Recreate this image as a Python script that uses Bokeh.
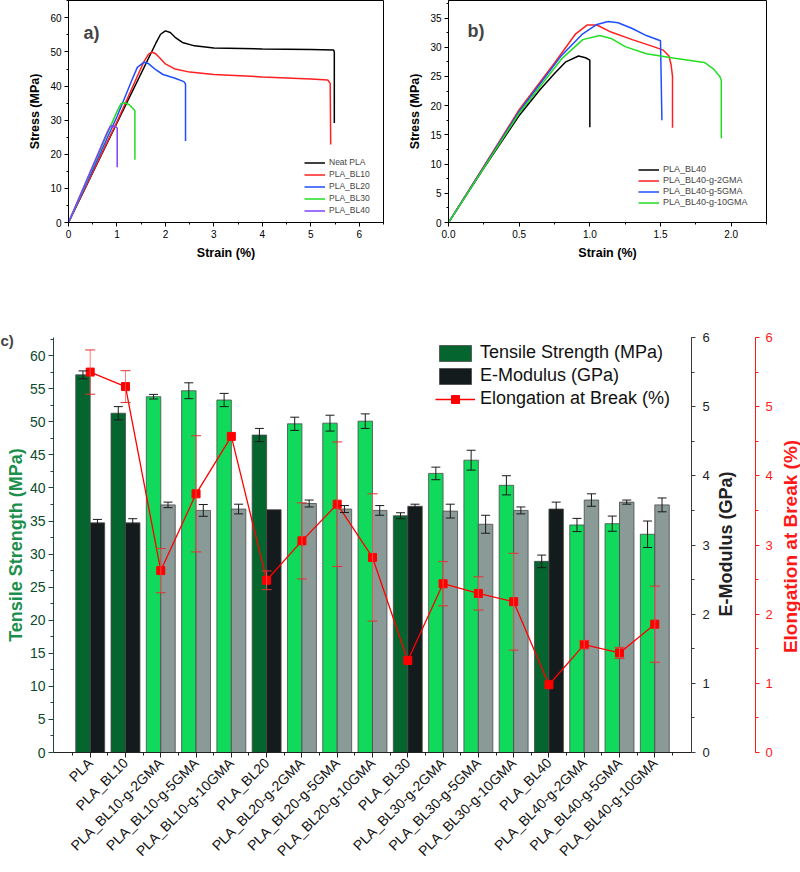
import math
from bokeh.plotting import figure
from bokeh.layouts import column, row
from bokeh.models import (Range1d, LinearAxis, FixedTicker, SingleIntervalTicker, Legend, LegendItem,
                          Whisker, TeeHead, ColumnDataSource, Label, NumeralTickFormatter)
from bokeh.transform import dodge
from bokeh.embed import file_html
from bokeh.resources import INLINE

FONT = "Liberation Sans"

# ---------------- panel a: stress-strain curves ----------------
a_names = ["Neat PLA", "PLA_BL10", "PLA_BL20", "PLA_BL30", "PLA_BL40"]
a_colors = ["#000000", "#ff1f1f", "#1f4dff", "#22dd22", "#8040ff"]
a_pla_x = [0, 1.0, 1.8, 1.9, 2.0, 2.1, 2.2, 2.35, 2.6, 3.0, 4.0, 5.0, 5.47, 5.485, 5.485]
a_pla_y = [0, 29.2, 52.5, 55.2, 56.2, 55.7, 54.3, 52.8, 51.8, 51.2, 50.9, 50.7, 50.6, 50.0, 29.2]
a_bl10_x = [0, 1.0, 1.55, 1.65, 1.72, 1.8, 1.9, 2.0, 2.2, 2.5, 3.0, 4.0, 5.0, 5.35, 5.40, 5.41]
a_bl10_y = [0, 29.5, 47.0, 49.3, 50.0, 49.5, 48.0, 46.5, 45.0, 44.1, 43.4, 42.7, 42.1, 41.8, 40.8, 22.9]
a_bl20_x = [0, 1.0, 1.3, 1.42, 1.56, 1.65, 1.8, 1.95, 2.2, 2.38, 2.415, 2.415]
a_bl20_y = [0, 31.0, 41.5, 45.5, 47.0, 46.6, 44.8, 43.4, 42.3, 41.3, 40.6, 23.9]
a_bl30_x = [0, 1.0, 1.08, 1.15, 1.25, 1.34, 1.37, 1.37]
a_bl30_y = [0, 32.5, 34.8, 35.1, 34.6, 33.3, 32.8, 18.4]
a_bl40_x = [0, 0.8, 0.86, 0.92, 0.98, 1.005, 1.005]
a_bl40_y = [0, 26.5, 28.2, 28.4, 28.0, 27.7, 16.2]

# ---------------- panel b ----------------
b_names = ["PLA_BL40", "PLA_BL40-g-2GMA", "PLA_BL40-g-5GMA", "PLA_BL40-g-10GMA"]
b_colors = ["#000000", "#ff1f1f", "#1f4dff", "#22dd22"]
b_bl40_x = [0, 0.25, 0.5, 0.65, 0.75, 0.83, 0.92, 0.97, 1.0, 1.0]
b_bl40_y = [0, 9.3, 18.3, 22.8, 25.5, 27.5, 28.5, 28.2, 27.8, 16.3]
b_g2_x = [0, 0.5, 0.75, 0.9, 0.98, 1.05, 1.15, 1.3, 1.45, 1.52, 1.56, 1.575, 1.585, 1.585]
b_g2_y = [0, 19.3, 27.3, 32.3, 33.8, 33.8, 32.6, 31.3, 30.1, 29.5, 28.5, 27.0, 25.0, 16.2]
b_g5_x = [0, 0.5, 0.8, 0.95, 1.05, 1.13, 1.2, 1.3, 1.4, 1.5, 1.51]
b_g5_y = [0, 19.0, 28.6, 32.3, 33.9, 34.4, 34.2, 33.2, 32.0, 31.1, 17.5]
b_g10_x = [0, 0.5, 0.8, 0.95, 1.07, 1.15, 1.25, 1.4, 1.6, 1.81, 1.87, 1.92, 1.93, 1.93]
b_g10_y = [0, 18.7, 28.0, 31.3, 32.0, 31.5, 30.1, 28.9, 28.1, 27.4, 26.4, 25.0, 24.3, 14.4]

# ---------------- panel c ----------------
categories = ["PLA", "PLA_BL10", "PLA_BL10-g-2GMA", "PLA_BL10-g-5GMA", "PLA_BL10-g-10GMA",
              "PLA_BL20", "PLA_BL20-g-2GMA", "PLA_BL20-g-5GMA", "PLA_BL20-g-10GMA",
              "PLA_BL30", "PLA_BL30-g-2GMA", "PLA_BL30-g-5GMA", "PLA_BL30-g-10GMA",
              "PLA_BL40", "PLA_BL40-g-2GMA", "PLA_BL40-g-5GMA", "PLA_BL40-g-10GMA"]
is_grafted = [False, False, True, True, True, False, True, True, True,
              False, True, True, True, False, True, True, True]
tensile = [57.1, 51.3, 53.8, 54.7, 53.3, 48.0, 49.7, 49.8, 50.1, 35.8, 42.2, 44.2, 40.4, 28.9, 34.4, 34.6, 33.0]
tensile_err = [0.6, 1.0, 0.35, 1.2, 1.0, 1.0, 1.0, 1.2, 1.1, 0.45, 0.95, 1.5, 1.45, 0.95, 1.0, 1.15, 2.0]
modulus = [3.32, 3.32, 3.58, 3.50, 3.52, 3.51, 3.60, 3.52, 3.50, 3.56, 3.49, 3.30, 3.50, 3.52, 3.65, 3.62, 3.58]
modulus_err = [0.05, 0.06, 0.04, 0.085, 0.07, 0.0, 0.05, 0.05, 0.07, 0.03, 0.1, 0.13, 0.05, 0.1, 0.09, 0.03, 0.1]
elong = [5.50, 5.29, 2.63, 3.74, 4.57, 2.49, 3.06, 3.59, 2.82, 1.33, 2.44, 2.30, 2.18, 0.98, 1.56, 1.44, 1.855]
elong_err = [0.32, 0.23, 0.32, 0.84, 0.0, 0.135, 0.55, 0.9, 0.92, 0.0, 0.32, 0.24, 0.70, 0.0, 0.06, 0.08, 0.55]


def style_small(p, xint, yint, xfmt=None):
    p.xaxis.ticker = SingleIntervalTicker(interval=xint, num_minor_ticks=2)
    p.yaxis.ticker = SingleIntervalTicker(interval=yint, num_minor_ticks=2)
    if xfmt:
        p.xaxis.formatter = NumeralTickFormatter(format=xfmt)
    for ax in (p.xaxis[0], p.yaxis[0]):
        ax.major_tick_out = 4
        ax.major_tick_in = 0
        ax.minor_tick_out = 2
        ax.minor_tick_in = 0
        ax.axis_line_color = "black"
        ax.major_tick_line_color = "black"
        ax.minor_tick_line_color = "black"
        ax.major_label_text_font = FONT
        ax.major_label_text_font_size = "10px"
        ax.major_label_text_color = "black"
        ax.axis_label_text_font = FONT
        ax.axis_label_text_font_style = "bold"
        ax.axis_label_text_font_size = "12.5px"
        ax.axis_label_text_color = "black"
        ax.major_label_standoff = 3
        ax.axis_label_standoff = 5
    p.xgrid.visible = False
    p.ygrid.visible = False
    p.outline_line_color = "black"
    p.outline_line_alpha = 1
    p.outline_line_width = 1


def style_side_axis(ax, color, label_color):
    ax.ticker = SingleIntervalTicker(interval=1, num_minor_ticks=2)
    ax.major_label_text_font = FONT
    ax.major_label_text_font_size = "13px"
    ax.major_label_text_color = label_color
    ax.axis_line_color = color
    ax.major_tick_line_color = color
    ax.minor_tick_line_color = color
    ax.major_tick_out = 4
    ax.major_tick_in = 0
    ax.minor_tick_out = 3
    ax.minor_tick_in = 0


def strip_figure(width, right_border, y_loc):
    f = figure(width=width, height=592, title=None, x_range=Range1d(0, 1), y_range=Range1d(0, 6),
               x_axis_location=None, y_axis_location=y_loc, output_backend="svg", toolbar_location=None,
               min_border_left=0, min_border_right=right_border, min_border_top=57, min_border_bottom=120)
    f.outline_line_color = None
    f.xgrid.visible = False
    f.ygrid.visible = False
    return f


# ---- figure a ----
pa = figure(width=400, height=280, title=None, x_range=Range1d(0, 6.5), y_range=Range1d(0, 65.1),
            output_backend="svg", toolbar_location=None,
            min_border_left=68, min_border_right=17, min_border_top=0, min_border_bottom=58)
pa.xaxis.axis_label = "Strain (%)"
pa.yaxis.axis_label = "Stress (MPa)"
style_small(pa, 1, 10)
a_series = [(a_pla_x, a_pla_y), (a_bl10_x, a_bl10_y), (a_bl20_x, a_bl20_y), (a_bl30_x, a_bl30_y), (a_bl40_x, a_bl40_y)]
a_items = []
for (xs, ys), nm, col in zip(a_series, a_names, a_colors):
    r = pa.line(xs, ys, line_color=col, line_width=1.5)
    a_items.append(LegendItem(label=nm, renderers=[r]))
leg_a = Legend(items=a_items, location=(236, 7), border_line_color=None, background_fill_alpha=0,
               padding=0, margin=0, spacing=2, glyph_width=21, glyph_height=9, label_height=9,
               label_standoff=4, label_text_font=FONT, label_text_font_size="8.5px")
pa.add_layout(leg_a)
pa.add_layout(Label(x=15, y=190, x_units="screen", y_units="screen", text="a)", text_font=FONT,
                    text_font_style="bold", text_font_size="18px", text_baseline="alphabetic"))

# ---- figure b ----
pb = figure(width=400, height=280, title=None, x_range=Range1d(0, 2.25), y_range=Range1d(0, 38.0),
            output_backend="svg", toolbar_location=None,
            min_border_left=48, min_border_right=34, min_border_top=0, min_border_bottom=56)
pb.xaxis.axis_label = "Strain (%)"
pb.yaxis.axis_label = "Stress (MPa)"
style_small(pb, 0.5, 5, xfmt="0.0")
b_series = [(b_bl40_x, b_bl40_y), (b_g2_x, b_g2_y), (b_g5_x, b_g5_y), (b_g10_x, b_g10_y)]
b_items = []
for (xs, ys), nm, col in zip(b_series, b_names, b_colors):
    r = pb.line(xs, ys, line_color=col, line_width=1.5)
    b_items.append(LegendItem(label=nm, renderers=[r]))
leg_b = Legend(items=b_items, location=(190, 15), border_line_color=None, background_fill_alpha=0,
               padding=0, margin=0, spacing=1, glyph_width=21, glyph_height=9, label_height=9,
               label_standoff=4, label_text_font=FONT, label_text_font_size="9px")
pb.add_layout(leg_b)
pb.add_layout(Label(x=19, y=192, x_units="screen", y_units="screen", text="b)", text_font=FONT,
                    text_font_style="bold", text_font_size="18px", text_baseline="alphabetic"))

# ---- figure c (bars + E-modulus axis) ----
idx = list(range(len(categories)))
t_colors = ["#10d95c" if g else "#05652f" for g in is_grafted]
m_colors = ["#8a9a97" if g else "#141b1c" for g in is_grafted]
src = ColumnDataSource(dict(x=idx, tensile=tensile, modulus=modulus, elong=elong,
                            tcol=t_colors, mcol=m_colors))

pc = figure(width=712, height=592, x_range=Range1d(-1.04, 17.04), y_range=Range1d(0, 62.75),
            output_backend="svg", toolbar_location=None,
            min_border_left=53, min_border_right=19, min_border_top=57, min_border_bottom=120)
pc.title.text = "c)"
pc.title.align = "left"
pc.title.offset = -53
pc.title.standoff = -22
pc.title.text_font = FONT
pc.title.text_font_size = "15px"
pc.title.text_font_style = "bold"
pc.extra_y_ranges = {"emod": Range1d(0, 6), "elong": Range1d(0, 6)}
pc.xgrid.visible = False
pc.ygrid.visible = False
pc.outline_line_color = None

tb = pc.vbar(x=dodge("x", -0.205), top="tensile", width=0.41, fill_color="tcol",
             line_color="#4a4a4a", line_width=0.8, source=src)
mb = pc.vbar(x=dodge("x", 0.205), top="modulus", width=0.41, fill_color="mcol",
             line_color="#4a4a4a", line_width=0.8, source=src, y_range_name="emod")


def err_source(vals, errs):
    xs, lo, hi = [], [], []
    for i, (v, e) in enumerate(zip(vals, errs)):
        if e > 0:
            xs.append(i)
            lo.append(v - e)
            hi.append(v + e)
    return ColumnDataSource(dict(x=xs, lo=lo, hi=hi))


tsrc = err_source(tensile, tensile_err)
msrc = err_source(modulus, modulus_err)
esrc = err_source(elong, elong_err)

pc.add_layout(Whisker(base=dodge("x", -0.205), lower="lo", upper="hi", source=tsrc, level="glyph",
                      line_color="#1a1a1a", line_width=1,
                      upper_head=TeeHead(size=9, line_color="#1a1a1a", line_width=1),
                      lower_head=TeeHead(size=9, line_color="#1a1a1a", line_width=1)))
pc.add_layout(Whisker(base=dodge("x", 0.205), lower="lo", upper="hi", source=msrc, level="glyph",
                      y_range_name="emod", line_color="#1a1a1a", line_width=1,
                      upper_head=TeeHead(size=9, line_color="#1a1a1a", line_width=1),
                      lower_head=TeeHead(size=9, line_color="#1a1a1a", line_width=1)))
pc.add_layout(Whisker(base="x", lower="lo", upper="hi", source=esrc, level="glyph",
                      y_range_name="elong", line_color="#ff5a5a", line_width=1, line_alpha=0.8,
                      upper_head=TeeHead(size=10, line_color="#e83030", line_width=1),
                      lower_head=TeeHead(size=10, line_color="#e83030", line_width=1)))
el = pc.line(x="x", y="elong", source=src, y_range_name="elong", line_color="#ff0000", line_width=1.3)
es = pc.scatter(x="x", y="elong", source=src, y_range_name="elong", marker="square", size=8,
                fill_color="#ff0000", line_color="#ff0000")

# left axis
lax = pc.yaxis[0]
lax.ticker = SingleIntervalTicker(interval=5, num_minor_ticks=2)
lax.axis_label = "Tensile Strength (MPa)"
lax.axis_label_text_font = FONT
lax.axis_label_text_font_style = "bold"
lax.axis_label_text_font_size = "18px"
lax.axis_label_text_color = "#1b8f4b"
lax.axis_label_standoff = 1
lax.major_label_text_font = FONT
lax.major_label_text_font_size = "14px"
lax.major_label_text_color = "#0c4a2c"
lax.major_label_standoff = 3
lax.axis_line_color = "#24453a"
lax.major_tick_line_color = "#24453a"
lax.minor_tick_line_color = "#24453a"
lax.major_tick_out = 5
lax.major_tick_in = 0
lax.minor_tick_out = 3
lax.minor_tick_in = 0

# bottom axis
bax = pc.xaxis[0]
bax.ticker = FixedTicker(ticks=idx, minor_ticks=[i + 0.5 for i in range(-1, len(categories))])
bax.major_label_overrides = {i: c for i, c in enumerate(categories)}
bax.major_label_orientation = math.pi / 4
bax.major_label_text_font = FONT
bax.major_label_text_font_size = "14px"
bax.major_label_text_color = "#111111"
bax.major_label_standoff = 3
bax.axis_line_color = "#222222"
bax.major_tick_line_color = "#222222"
bax.minor_tick_line_color = "#222222"
bax.major_tick_out = 5
bax.major_tick_in = 0
bax.minor_tick_out = 3
bax.minor_tick_in = 0

# E-modulus axis (ticks only; its title lives in the next strip)
eax = LinearAxis(y_range_name="emod", major_label_standoff=7)
style_side_axis(eax, "#3a3a3a", "#222222")
pc.add_layout(eax, "right")

leg_c = Legend(items=[LegendItem(label="Tensile Strength (MPa)", renderers=[tb], index=0),
                      LegendItem(label="E-Modulus (GPa)", renderers=[mb], index=0),
                      LegendItem(label="Elongation at Break (%)", renderers=[el, es])],
               location=(382, 343), border_line_color=None, background_fill_alpha=0,
               padding=0, margin=0, spacing=2, glyph_width=40, glyph_height=20, label_height=20,
               label_standoff=5, label_text_font=FONT, label_text_font_size="18px",
               label_text_color="#111111")
pc.add_layout(leg_c)

# ---- strip: E-modulus title (inside its frame) + elongation axis ----
pe = strip_figure(63, 18, "right")
pe.add_layout(Label(x=13.7, y=208.5, x_units="screen", y_units="screen", text="E-Modulus (GPa)",
                    angle=math.pi / 2, text_align="center", text_baseline="middle", text_font=FONT,
                    text_font_style="bold", text_font_size="18px", text_color="#222222"))
gax = pe.yaxis[0]
style_side_axis(gax, "#ff1a1a", "#ff1a1a")
gax.major_label_standoff = 6

# ---- strip: elongation title ----
pg = strip_figure(25, 0, None)
pg.add_layout(Label(x=14.5, y=206, x_units="screen", y_units="screen", text="Elongation at Break (%)",
                    angle=math.pi / 2, text_align="center", text_baseline="middle", text_font=FONT,
                    text_font_style="bold", text_font_size="19px", text_color="#ff1a1a"))

layout = column(row(pa, pb), row(pc, pe, pg))
open("out.html", "w").write(file_html(layout, INLINE))
